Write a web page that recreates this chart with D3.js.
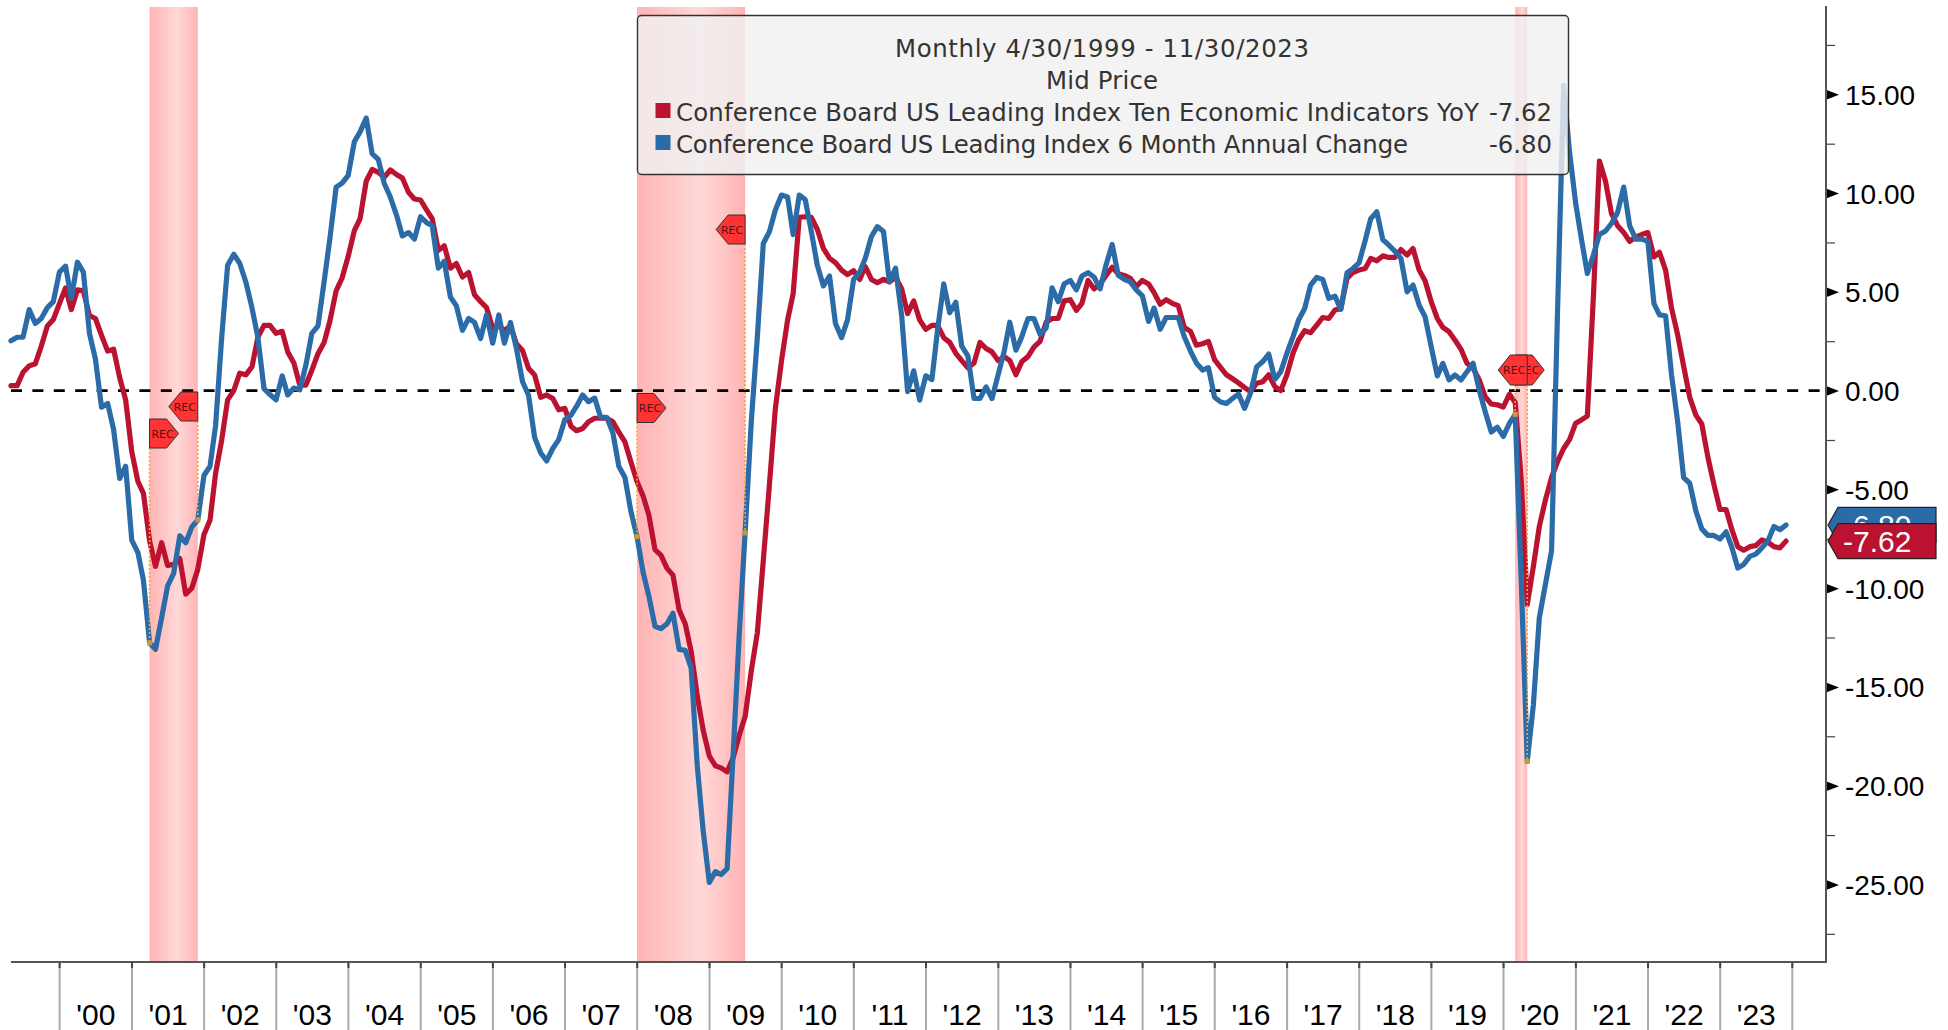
<!DOCTYPE html>
<html><head><meta charset="utf-8">
<style>html,body{margin:0;padding:0;background:#fff;overflow:hidden}svg{display:block}text{font-family:"Liberation Sans",sans-serif}</style>
<script src="https://cdn.jsdelivr.net/npm/d3@7/dist/d3.min.js"></script>
</head><body><svg id="c" width="1948" height="1030"></svg>
<script>
const yearLabels=["'00","'01","'02","'03","'04","'05","'06","'07","'08","'09","'10","'11","'12","'13","'14","'15","'16","'17","'18","'19","'20","'21","'22","'23"];
const firstYear=2000;
const majorTicks=[15,10,5,0,-5,-10,-15,-20,-25];
const minorTicks=[17.5,12.5,7.5,2.5,-2.5,-7.5,-12.5,-17.5,-22.5,-27.5];
const leadingYoY=[
.25,.25,.93,1.25,1.36,2.24,3.27,3.6,4.4,5.2,
4.1,5.1,5.05,3.8,3.65,2.8,2.0,2.1,.65,-.47,
-3.1,-4.6,-5.2,-7.6,-8.9,-7.7,-8.85,-8.8,-8.5,-10.3,
-10,-9.05,-7.3,-6.55,-4.2,-2.5,-.47,0,.88,.8,
1.2,2.7,3.3,3.3,2.9,3,1.96,1.4,.28,.28,
1.03,1.87,2.43,3.55,5.05,5.7,6.8,8.1,8.7,10.6,
11.2,11.05,10.8,11.17,10.94,10.76,10.04,9.7,9.65,9.14,
8.7,7.1,7.33,6.2,6.43,5.75,5.98,4.85,4.5,4.2,
3.16,3.27,3.05,3.27,2.37,2.03,1.13,.79,-.34,-.22,
-.4,-.97,-.9,-1.8,-2.03,-1.92,-1.58,-1.4,-1.4,-1.4,
-1.58,-2.1,-2.6,-3.6,-4.6,-5.34,-6.3,-8.05,-8.33,-9,
-9.34,-11.1,-11.8,-13.2,-15.46,-17.2,-18.5,-19,-19.1,-19.3,
-18.6,-17.46,-16.5,-14.2,-12.25,-8.6,-4.76,-.9,1.5,3.58,
4.9,8.77,8.8,8.77,8.17,7.2,6.7,6.48,6.1,5.87,
6.07,5.63,6.28,5.63,5.46,5.63,5.5,5.75,5.15,3.9,
4.54,3.58,3.1,3.3,3.3,2.68,2.44,1.89,1.52,1.16,
1.4,2.44,2.13,1.96,1.52,1.72,1.52,.8,1.47,1.72,
2.2,2.49,3.46,3.65,3.65,4.54,4.6,4.06,4.42,5.58,
5.15,5.4,5.83,6.24,5.92,5.83,5.68,5.27,5.58,5.4,
4.96,4.37,4.6,4.42,4.3,3.2,3,2.3,2.37,2.49,
1.57,1.16,.8,.6,.39,.15,-.05,.37,.45,.8,
.2,0,.8,1.89,2.56,3.03,2.93,3.32,3.7,3.65,
4.08,4.16,5.68,5.98,6.1,6.18,6.69,6.57,6.82,6.74,
6.74,7.14,6.86,7.19,6.1,5.56,4.5,3.65,3.2,2.98,
2.56,2.09,1.38,1.13,.54,-.3,-.68,-.72,-.83,-.18,
-.6,-4.6,-10.83,-8.9,-6.88,-5.53,-4.4,-3.6,-2.93,-2.48,
-1.65,-1.47,-1.29,4.85,11.62,10.6,8.96,8.35,8,7.56,
7.78,7.9,8,6.77,7,6.09,4.17,2.82,1.24,-.34,
-1.24,-1.69,-3.38,-4.74,-6.02,-6.02,-7,-7.9,-8.08,-7.9,
-7.85,-7.56,-7.67,-7.9,-7.96,-7.62];
const leadingSixMonth=[
2.52,2.7,2.7,4.1,3.4,3.65,4.2,4.5,6.0,6.3,
4.67,6.5,6.0,2.9,1.6,-.84,-.65,-1.96,-4.45,-3.83,
-7.57,-8.2,-9.6,-12.77,-13.1,-11.5,-9.9,-9.25,-7.35,-7.7,
-6.9,-6.55,-4.3,-3.83,-1.78,2.7,6.35,6.9,6.45,5.5,
4.2,2.7,.1,-.2,-.47,.75,-.22,.13,.04,1.3,
2.9,3.27,5.5,7.76,10.3,10.5,10.9,12.6,13.1,13.8,
12.0,11.7,10.5,9.8,8.9,7.83,8.0,7.67,8.8,8.5,
8.35,6.2,6.55,4.74,4.3,3.05,3.65,3.45,2.64,3.83,
2.4,3.83,2.4,3.45,2.14,.45,-.22,-2.37,-3.16,-3.56,
-2.93,-2.48,-1.47,-1.24,-.8,-.22,-.56,-.38,-1.35,-1.35,
-2.14,-3.83,-4.4,-6.1,-7.39,-9.2,-10.4,-11.93,-12.05,-11.8,
-11.27,-13.1,-13.15,-14.05,-19,-22.3,-24.9,-24.35,-24.5,-24.2,
-18.5,-12.4,-7.2,-1.6,2.73,7.45,8.05,9.14,9.9,9.8,
7.9,9.9,9.67,8.05,6.36,5.3,5.8,3.4,2.68,3.58,
5.63,6.0,6.7,7.8,8.3,8.05,5.5,6.2,3.8,-.05,
1.0,-.48,.75,.56,3.1,5.4,3.94,4.47,2.25,1.76,
-.4,-.4,.19,-.4,.8,2.0,3.46,2.05,2.73,3.65,
3.65,2.85,3.17,5.2,4.5,5.4,5.58,5.1,5.8,5.97,
5.75,5.15,6.36,7.4,5.83,5.63,5.5,5.1,4.8,3.5,
4.18,3.1,3.7,3.7,3.7,2.73,2.0,1.4,1.04,1.16,
-.34,-.58,-.65,-.4,-.17,-.9,-.13,1.2,1.47,1.85,
.57,.96,1.89,2.73,3.57,4.16,5.34,5.73,5.63,4.67,
4.78,4.11,5.96,6.18,6.47,7.6,8.7,9.05,7.65,7.36,
7.06,6.69,5.0,5.34,4.33,3.74,2.22,.74,1.38,.54,
.79,.54,.96,1.38,.03,-1.06,-2.1,-1.85,-2.32,-1.65,
-1.2,-9.8,-18.77,-15.9,-11.5,-9.8,-8.1,3.95,15.45,12.07,
9.47,7.56,5.93,6.88,7.9,8.08,8.46,9.02,10.3,8.35,
7.67,7.67,7.56,4.4,3.83,3.79,.79,-1.58,-4.4,-4.69,
-6.09,-7.0,-7.33,-7.33,-7.51,-7.15,-7.9,-8.98,-8.8,-8.39,
-8.28,-7.96,-7.6,-6.88,-7.04,-6.8];
const seriesNames=["Conference Board US Leading Index Ten Economic Indicators YoY","Conference Board US Leading Index 6 Month Annual Change"];
const seriesLast=["-7.62","-6.80"];
const recessionStart=["2001-03-31","2007-12-31","2020-02-29"];
const recessionEnd=["2001-11-30","2009-06-30","2020-04-30"];
const legendLines=["Monthly 4/30/1999 - 11/30/2023","Mid Price"];

const RED="#BA1230",BLUE="#2B6CA8",FONT=28;
const parse=d3.utcParse("%Y-%m-%d");
const dates=d3.utcMonth.range(new Date(Date.UTC(1999,3,1)),new Date(Date.UTC(2023,11,1))).map(m=>d3.utcDay.offset(d3.utcMonth.offset(m,1),-1));
const x=d3.scaleUtc().domain([dates[0],dates[dates.length-1]]).range([11,1786]);
const y=d3.scaleLinear().domain([0,15]).range([390.6,94.3]);
const plot={l:11,r:1826,t:7,b:962};
const svg=d3.select("#c");
const defs=svg.append("defs");
const grad=defs.append("linearGradient").attr("id","rec");
[[0,"#FFB4B4"],[.58,"#FFD8D8"],[1,"#FFB4B4"]].forEach(s=>grad.append("stop").attr("offset",s[0]).attr("stop-color",s[1]));

svg.append("g").selectAll("rect").data(recessionStart).join("rect")
 .attr("x",d=>x(parse(d))).attr("y",plot.t)
 .attr("width",(d,i)=>x(parse(recessionEnd[i]))-x(parse(d))).attr("height",plot.b-plot.t)
 .attr("fill","url(#rec)");

svg.append("line").attr("x1",plot.l).attr("x2",plot.r).attr("y1",y(0)).attr("y2",y(0))
 .attr("stroke","#000").attr("stroke-width",2.6).attr("stroke-dasharray","11 10.4");

const line=d3.line().x((d,i)=>x(dates[i])).y(d=>y(d)).curve(d3.curveLinear);
[[leadingYoY,RED],[leadingSixMonth,BLUE]].forEach(([v,c])=>svg.append("path").attr("d",line(v))
 .attr("fill","none").attr("stroke",c).attr("stroke-width",5.2).attr("stroke-linejoin","round").attr("stroke-linecap","round"));

function tag(dStr,dir,topY,h){
  const X=x(parse(dStr));
  const idx=d3.bisectCenter(dates,parse(dStr));
  const dot=y(leadingSixMonth[idx]);
  const w=29,sh=12;
  svg.append("line").attr("x1",X).attr("x2",X).attr("y1",topY+h).attr("y2",dot)
   .attr("stroke","#F5A623").attr("stroke-width",1.6).attr("stroke-dasharray","2 2");
  svg.append("rect").attr("x",X-2.5).attr("y",dot-2.5).attr("width",5).attr("height",5).attr("fill","#C49A3A");
  const tip=X+dir*w, s=X+dir*(w-sh), m=topY+h/2;
  svg.append("path").attr("d",d3.line()([[X,topY],[s,topY],[tip,m],[s,topY+h],[X,topY+h]])+"Z")
   .attr("fill","#FF3333").attr("stroke","#333").attr("stroke-width",1);
  svg.append("text").attr("x",X+dir*13).attr("y",m+4).attr("text-anchor","middle").attr("font-size",11).style("font-family","DejaVu Sans").attr("fill","#511").text("REC");
}
tag(recessionStart[0],1,419,29);
tag(recessionEnd[0],-1,392,29);
tag(recessionStart[1],1,393.5,29);
tag(recessionEnd[1],-1,215,29);
tag(recessionStart[2],1,355,30);
tag(recessionEnd[2],-1,355,30);

const fmt=d3.format(".2f");
const yMajor=d3.axisRight(y).tickValues(majorTicks).tickSize(0).tickFormat(d=>fmt(d).replace("\u2212","-"));
const gy=svg.append("g").attr("transform",`translate(${plot.r},0)`).call(yMajor);
gy.select(".domain").remove();
gy.selectAll("text").attr("x",19).attr("dy","0.36em").attr("text-anchor","start").attr("font-size",FONT).attr("font-family","Liberation Sans").attr("fill","#000").attr("stroke","none");
gy.selectAll(".tick").append("path").attr("d","M0,-5L13,0L0,5Z").attr("fill","#000");
const gm=svg.append("g").attr("transform",`translate(${plot.r},0)`).call(d3.axisRight(y).tickValues(minorTicks).tickSize(9).tickFormat(""));
gm.select(".domain").remove();
gm.selectAll("line").attr("stroke","#444").attr("stroke-width",1.2);
svg.append("line").attr("x1",plot.r).attr("x2",plot.r).attr("y1",plot.t-1).attr("y2",plot.b+1).attr("stroke","#555").attr("stroke-width",2);
svg.append("line").attr("x1",plot.l).attr("x2",plot.r+1).attr("y1",plot.b).attr("y2",plot.b).attr("stroke","#555").attr("stroke-width",2);

const yearBounds=d3.range(firstYear,firstYear+yearLabels.length+1).map(v=>new Date(Date.UTC(v,0,1)));
const gx=svg.append("g").selectAll("g").data(yearBounds).join("g");
gx.append("line").attr("x1",d=>x(d)).attr("x2",d=>x(d)).attr("y1",plot.b).attr("y2",1030).attr("stroke","#AAA").attr("stroke-width",2);
gx.append("line").attr("x1",d=>x(d)).attr("x2",d=>x(d)).attr("y1",plot.b).attr("y2",plot.b+6).attr("stroke","#444").attr("stroke-width",2);
svg.append("g").selectAll("text").data(yearLabels).join("text")
 .attr("x",(d,i)=>(x(yearBounds[i])+x(yearBounds[i+1]))/2).attr("y",1025).attr("text-anchor","middle")
 .attr("font-size",30).attr("fill","#000").text(d=>d);

[[leadingSixMonth,BLUE,seriesLast[1]],[leadingYoY,RED,seriesLast[0]]].forEach(([v,c,t])=>{
  const yy=y(v[v.length-1]),h=17.5,L=plot.r+2,S=L+10,R=1936;
  svg.append("path").attr("d",d3.line()([[L,yy],[S,yy-h],[R,yy-h],[R,yy+h],[S,yy+h]])+"Z").attr("fill",c).attr("stroke","#222").attr("stroke-width",1.2);
  svg.append("text").attr("x",1843).attr("y",yy+11).attr("font-size",30).attr("fill","#fff").text(t);
});

const lg=svg.append("g");
lg.append("rect").attr("x",637.5).attr("y",15.5).attr("width",931).attr("height",159).attr("rx",4)
 .attr("fill","#F0F0F0").attr("fill-opacity",.82).attr("stroke","#333").attr("stroke-width",1.4);
const LF=24.4, ink="#333", LFam="DejaVu Sans";
const headWidths=[414,112], nameWidths=[803,732];
lg.selectAll("text.h").data(legendLines).join("text").attr("class","h").attr("x",1102).attr("y",(d,i)=>57+i*32)
 .attr("text-anchor","middle").attr("font-size",LF).style("font-family",LFam).attr("fill",ink)
 .attr("textLength",(d,i)=>headWidths[i]).attr("lengthAdjust","spacing").text(d=>d);
[RED,BLUE].forEach((c,i)=>{
  lg.append("rect").attr("x",655.5).attr("y",103+i*32).attr("width",15).attr("height",15).attr("fill",c);
  lg.append("text").attr("x",676).attr("y",121+i*32).attr("font-size",LF).style("font-family",LFam).attr("fill",ink)
   .attr("textLength",nameWidths[i]).attr("lengthAdjust","spacing").text(seriesNames[i]);
  lg.append("text").attr("x",1552).attr("y",121+i*32).attr("text-anchor","end").attr("font-size",LF).style("font-family",LFam).attr("fill",ink).text(seriesLast[i]);
});
</script></body></html>
